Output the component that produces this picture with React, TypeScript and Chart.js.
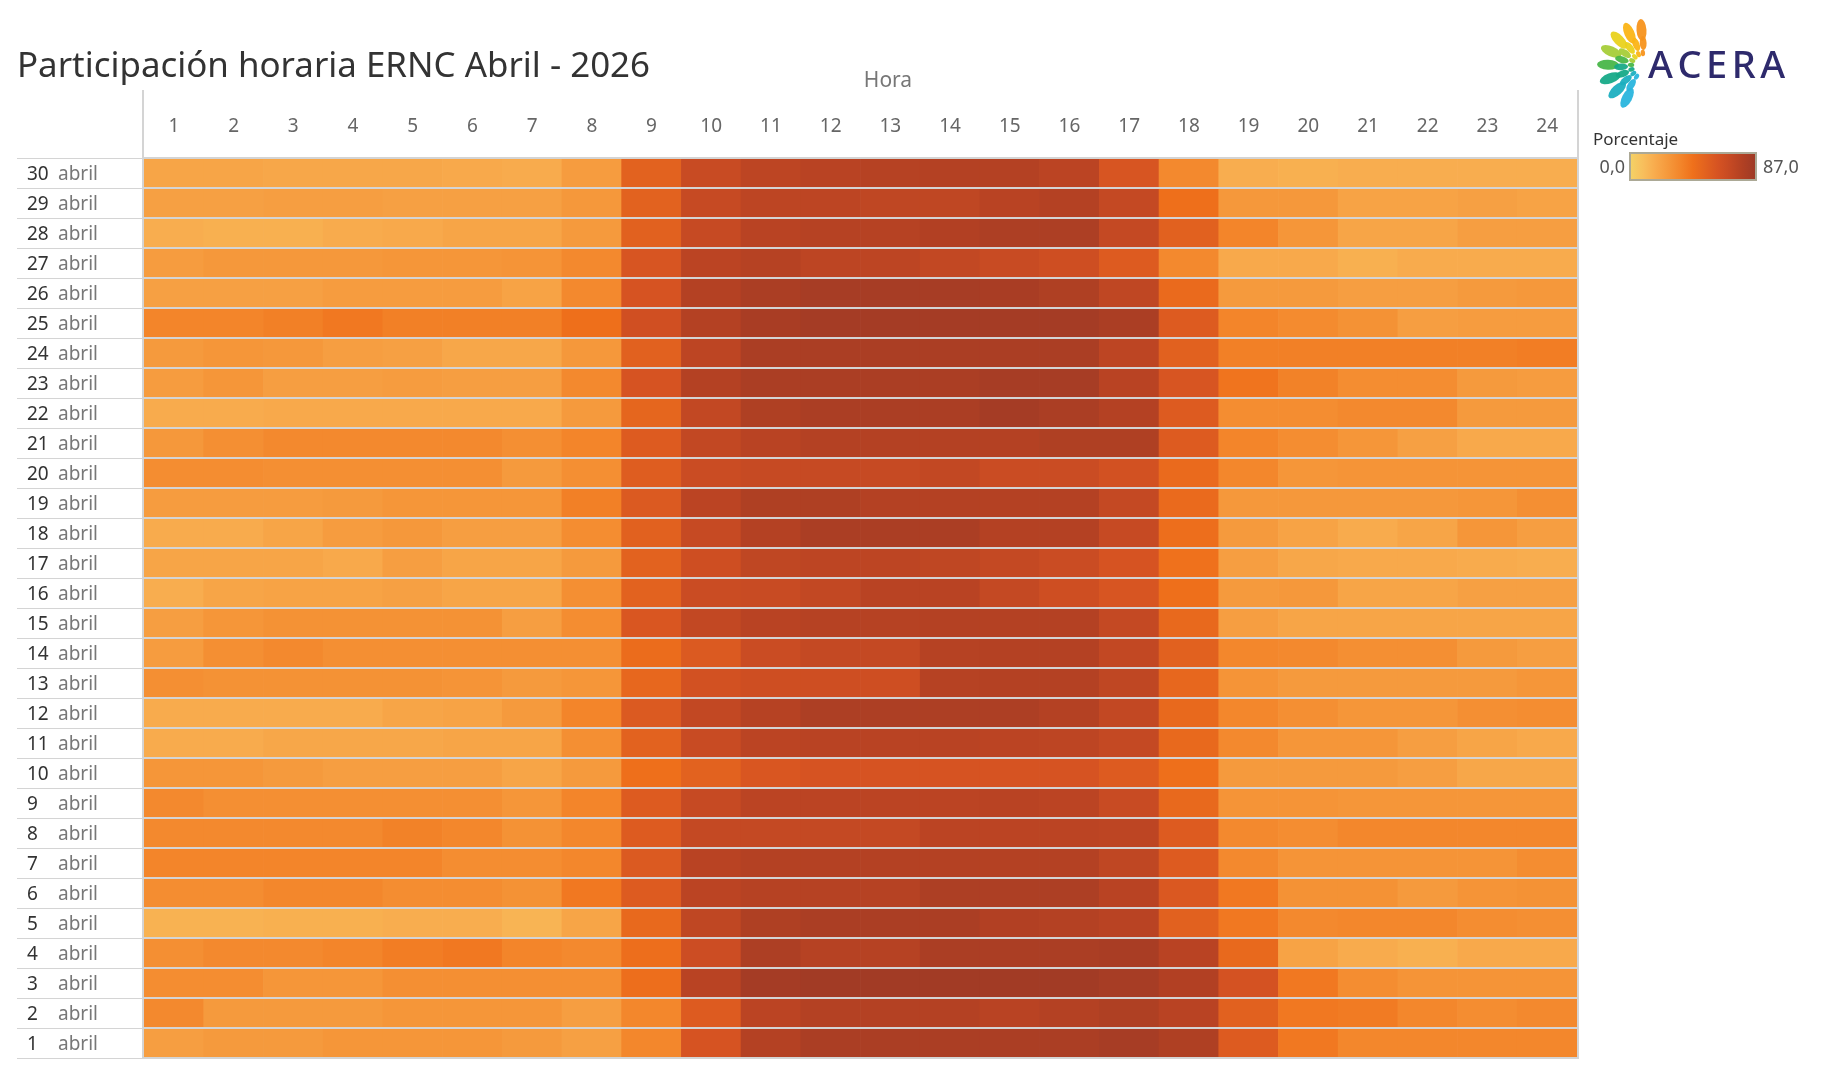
import { useEffect, useRef } from 'react';
import { Chart, registerables } from 'chart.js';

Chart.register(...registerables);

// ---------- data ----------
const TITLE = 'Participación horaria ERNC Abril - 2026';
const X_TITLE = 'Hora';
const LEGEND_TITLE = 'Porcentaje';
const MONTH_LABEL = 'abril';
const HOURS = ['1', '2', '3', '4', '5', '6', '7', '8', '9', '10', '11', '12', '13', '14', '15', '16', '17', '18', '19', '20', '21', '22', '23', '24'];
const DAYS = [30, 29, 28, 27, 26, 25, 24, 23, 22, 21, 20, 19, 18, 17, 16, 15, 14, 13, 12, 11, 10, 9, 8, 7, 6, 5, 4, 3, 2, 1];
const SCALE_MIN = 0;
const SCALE_MAX = 87;
const SCALE_LABELS = ['0,0', '87,0'];
const SCALE_COLORS = ['#f4d166', '#f8be5c', '#f8aa4c', '#f5983b', '#f3852a', '#ef701b', '#e2621f', '#d65322', '#c54923', '#b14023', '#9e3a26'];

const d30 = [20, 20, 19, 19, 19, 18, 17, 24, 52, 68, 73, 75, 76, 77, 77, 74, 60, 33, 16, 15, 16, 16, 16, 16];
const d29 = [22, 22, 23, 23, 22, 22, 22, 26, 52, 69, 73, 73, 72, 72, 75, 77, 70, 44, 26, 26, 21, 21, 22, 21];
const d28 = [16, 15, 15, 17, 18, 20, 20, 25, 53, 69, 75, 76, 76, 78, 80, 80, 70, 53, 35, 27, 20, 20, 23, 23];
const d27 = [24, 26, 26, 26, 27, 27, 28, 33, 60, 74, 76, 73, 73, 71, 68, 65, 56, 33, 18, 18, 15, 17, 17, 17];
const d26 = [22, 22, 22, 24, 24, 24, 21, 33, 61, 77, 81, 83, 83, 83, 82, 79, 72, 47, 25, 25, 23, 23, 25, 26];
const d25 = [35, 35, 37, 40, 37, 37, 37, 44, 64, 77, 82, 84, 84, 84, 84, 84, 81, 56, 35, 32, 29, 23, 24, 24];
const d24 = [25, 27, 26, 23, 22, 19, 19, 26, 53, 73, 81, 81, 81, 81, 81, 81, 73, 53, 37, 37, 37, 37, 37, 38];
const d23 = [24, 27, 23, 23, 24, 23, 23, 33, 61, 77, 81, 81, 81, 81, 83, 83, 75, 60, 42, 36, 31, 31, 25, 24];
const d22 = [17, 17, 18, 18, 18, 18, 18, 25, 50, 71, 79, 81, 81, 81, 84, 81, 77, 56, 31, 31, 33, 33, 25, 25];
const d21 = [26, 30, 33, 33, 33, 33, 30, 35, 56, 71, 75, 77, 77, 77, 77, 79, 79, 56, 35, 31, 27, 22, 18, 18];
const d20 = [31, 31, 30, 30, 30, 30, 25, 30, 55, 67, 69, 69, 69, 71, 67, 67, 63, 47, 34, 27, 28, 28, 28, 28];
const d19 = [24, 24, 24, 25, 27, 27, 27, 37, 57, 74, 79, 79, 77, 77, 77, 77, 70, 47, 26, 26, 26, 26, 27, 30];
const d18 = [17, 17, 20, 24, 26, 23, 23, 31, 53, 69, 77, 81, 81, 81, 77, 77, 69, 45, 25, 21, 17, 20, 27, 23];
const d17 = [20, 20, 20, 18, 23, 20, 20, 25, 52, 65, 72, 73, 73, 72, 70, 67, 61, 43, 23, 19, 18, 18, 17, 16];
const d16 = [16, 20, 21, 21, 22, 20, 20, 30, 52, 67, 68, 71, 75, 75, 70, 65, 60, 44, 25, 26, 20, 20, 22, 22];
const d15 = [23, 27, 29, 29, 29, 29, 23, 31, 59, 71, 75, 76, 76, 77, 77, 77, 70, 48, 23, 20, 20, 20, 20, 20];
const d14 = [24, 30, 33, 30, 30, 30, 30, 30, 46, 57, 67, 70, 70, 76, 77, 77, 71, 53, 34, 33, 30, 30, 25, 23];
const d13 = [30, 29, 29, 29, 29, 28, 25, 27, 49, 63, 65, 65, 65, 76, 77, 77, 72, 49, 28, 25, 25, 25, 25, 27];
const d12 = [17, 17, 17, 17, 20, 21, 25, 35, 57, 71, 76, 80, 80, 80, 80, 77, 71, 48, 34, 30, 27, 27, 30, 31];
const d11 = [17, 17, 19, 19, 19, 20, 20, 30, 52, 68, 74, 75, 75, 75, 74, 73, 70, 48, 33, 27, 27, 23, 20, 18];
const d10 = [27, 27, 25, 23, 23, 23, 20, 25, 44, 52, 59, 61, 61, 61, 61, 61, 56, 44, 25, 25, 25, 23, 19, 19];
const d9 = [33, 30, 30, 30, 30, 30, 27, 35, 56, 69, 74, 74, 74, 74, 75, 74, 68, 48, 28, 28, 27, 27, 27, 27];
const d8 = [33, 33, 33, 33, 36, 34, 29, 34, 56, 70, 70, 70, 70, 74, 74, 74, 73, 56, 33, 31, 34, 34, 34, 34];
const d7 = [35, 35, 35, 35, 35, 31, 31, 34, 57, 75, 77, 77, 77, 77, 77, 77, 72, 56, 33, 28, 28, 28, 28, 31];
const d6 = [31, 31, 34, 34, 31, 31, 29, 40, 56, 74, 76, 76, 76, 80, 80, 80, 75, 58, 40, 29, 29, 25, 28, 29];
const d5 = [14, 14, 15, 15, 16, 16, 13, 20, 48, 72, 79, 81, 81, 81, 78, 77, 75, 53, 40, 33, 34, 34, 31, 30];
const d4 = [30, 33, 33, 35, 38, 40, 35, 33, 45, 66, 80, 76, 76, 81, 81, 81, 82, 75, 48, 21, 17, 15, 18, 18];
const d3 = [31, 31, 27, 27, 30, 30, 30, 30, 45, 75, 84, 85, 85, 85, 85, 85, 83, 78, 62, 40, 31, 28, 28, 28];
const d2 = [33, 25, 25, 25, 27, 27, 27, 23, 34, 56, 74, 77, 77, 77, 75, 77, 79, 75, 53, 40, 39, 34, 31, 33];
const d1 = [23, 25, 25, 27, 27, 27, 25, 22, 34, 61, 77, 81, 81, 81, 81, 81, 83, 79, 56, 40, 34, 34, 34, 34];

// rows in the same order as DAYS (top to bottom)
const ROWS = [d30, d29, d28, d27, d26, d25, d24, d23, d22, d21, d20, d19, d18, d17, d16, d15, d14, d13, d12, d11, d10, d9, d8, d7, d6, d5, d4, d3, d2, d1];

// ---------- helpers ----------
function hexToRgb(h: string) {
  const n = parseInt(h.slice(1), 16);
  return [(n >> 16) & 255, (n >> 8) & 255, n & 255];
}
const SCALE_RGB = SCALE_COLORS.map(hexToRgb);
function colorFor(v: number) {
  const t = Math.min(1, Math.max(0, (v - SCALE_MIN) / (SCALE_MAX - SCALE_MIN)));
  const pos = t * (SCALE_RGB.length - 1);
  const i = Math.min(Math.floor(pos), SCALE_RGB.length - 2);
  const f = pos - i;
  const a = SCALE_RGB[i];
  const b = SCALE_RGB[i + 1];
  const c = a.map((x, k) => Math.round(x + (b[k] - x) * f));
  return `rgb(${c[0]},${c[1]},${c[2]})`;
}

const FONT = '"Noto Sans", "Open Sans", sans-serif';
const GRID = '#d4d4d4';

function drawLogo(ctx: CanvasRenderingContext2D) {
  const cx = 1636;
  const cy = 58;
  const petalColorStops: [number, string][] = [
    [270, '#f7941d'],
    [250, '#fbb416'],
    [230, '#e9d21e'],
    [210, '#a6cd39'],
    [190, '#49b649'],
    [170, '#17aa88'],
    [150, '#1cafc0'],
    [125, '#2ab5dd'],
  ];
  const colAt = (ang: number) => {
    let best = petalColorStops[0][1];
    let bd = 999;
    for (const [a, c] of petalColorStops) {
      const d = Math.abs(a - ang);
      if (d < bd) { bd = d; best = c; }
    }
    return best;
  };
  const rings: [number, number, number, number[]][] = [
    [36, 11, 5, [266, 246, 226, 204, 182, 160, 138, 118]],
    [23, 7, 3.4, [268, 250, 232, 214, 196, 178, 160, 142, 124]],
    [13, 3.2, 2.2, [265, 245, 225, 205, 185, 165, 145, 125]],
  ];
  for (const [r, rx, ry, angs] of rings) {
    for (const a of angs) {
      const rad = (a * Math.PI) / 180;
      ctx.beginPath();
      ctx.ellipse(cx + r * Math.cos(rad), cy + r * Math.sin(rad), rx, ry, rad, 0, Math.PI * 2);
      ctx.fillStyle = colAt(a);
      ctx.globalAlpha = 0.95;
      ctx.fill();
    }
  }
  ctx.globalAlpha = 1;
  ctx.fillStyle = '#2e2a6c';
  ctx.font = `500 38px ${FONT}`;
  ctx.textBaseline = 'alphabetic';
  ctx.textAlign = 'left';
  let x = 1640;
  for (const ch of 'ACERA') {
    ctx.fillText(ch, x, 70);
    x += ctx.measureText(ch).width + 4.5;
  }
}

const decorPlugin = {
  id: 'decor',
  afterDraw(chart: any) {
    const { ctx, chartArea: ca, scales } = chart;
    const y = scales.y;
    ctx.save();

    // title
    ctx.fillStyle = '#333333';
    ctx.font = `35px ${FONT}`;
    ctx.textAlign = 'left';
    ctx.textBaseline = 'alphabetic';
    const tw = ctx.measureText(TITLE).width;
    const sx = 633 / tw;
    ctx.save();
    ctx.translate(9, 69);
    ctx.scale(sx, 1);
    ctx.fillText(TITLE, 0, 0);
    ctx.restore();

    // axis title
    ctx.fillStyle = '#777777';
    ctx.font = `21px ${FONT}`;
    ctx.textAlign = 'center';
    ctx.textBaseline = 'middle';
    ctx.fillText(X_TITLE, 880, 73);

    // row separators in the label area
    ctx.strokeStyle = GRID;
    ctx.lineWidth = 1;
    for (let k = 0; k <= DAYS.length; k++) {
      const yy = Math.round(y.getPixelForValue(k)) + 0.5;
      ctx.beginPath();
      ctx.moveTo(9, yy);
      ctx.lineTo(ca.left, yy);
      ctx.stroke();
    }

    // vertical frame lines
    ctx.lineWidth = 2;
    ctx.beginPath();
    ctx.moveTo(ca.left - 1, 82);
    ctx.lineTo(ca.left - 1, ca.bottom + 1);
    ctx.moveTo(ca.right + 1, 82);
    ctx.lineTo(ca.right + 1, ca.bottom + 1);
    ctx.stroke();

    // row labels
    ctx.textBaseline = 'middle';
    ctx.textAlign = 'left';
    DAYS.forEach((day) => {
      const yc = y.getPixelForValue(day - 0.5) + 2;
      ctx.font = `19px ${FONT}`;
      ctx.fillStyle = '#333333';
      ctx.fillText(String(day), 19, yc);
      ctx.fillStyle = '#777777';
      ctx.fillText(MONTH_LABEL, 50, yc);
    });

    // legend
    ctx.fillStyle = '#333333';
    ctx.font = `17px ${FONT}`;
    ctx.textBaseline = 'alphabetic';
    ctx.fillText(LEGEND_TITLE, 1585, 137);
    const gx0 = 1623;
    const gx1 = 1747;
    const gy0 = 146;
    const gy1 = 171;
    const grad = ctx.createLinearGradient(gx0, 0, gx1, 0);
    SCALE_COLORS.forEach((c, i) => grad.addColorStop(i / (SCALE_COLORS.length - 1), c));
    ctx.fillStyle = grad;
    ctx.fillRect(gx0, gy0, gx1 - gx0, gy1 - gy0);
    ctx.strokeStyle = '#aca996';
    ctx.lineWidth = 2;
    ctx.strokeRect(gx0 - 1, gy0 - 1, gx1 - gx0 + 2, gy1 - gy0 + 2);
    ctx.fillStyle = '#555555';
    ctx.font = `18px ${FONT}`;
    ctx.textBaseline = 'middle';
    ctx.textAlign = 'right';
    ctx.fillText(SCALE_LABELS[0], 1617, 160);
    ctx.textAlign = 'left';
    ctx.fillText(SCALE_LABELS[1], 1755, 160);

    drawLogo(ctx);
    ctx.restore();
  },
};

export default function App() {
  const ref = useRef<HTMLCanvasElement | null>(null);
  useEffect(() => {
    if (!ref.current) return;
    const datasets = DAYS.map((day, i) => ({
      label: `${day} ${MONTH_LABEL}`,
      data: ROWS[i].map(() => [day - 1, day]),
      values: ROWS[i],
      backgroundColor: ROWS[i].map(colorFor),
      borderWidth: 0,
      barPercentage: 1,
      categoryPercentage: 1,
      grouped: false,
    }));
    const chart = new Chart(ref.current, {
      type: 'bar',
      data: { labels: HOURS, datasets: datasets as any },
      options: {
        responsive: false,
        animation: false,
        devicePixelRatio: 1,
        layout: { padding: { top: 90, left: 136, right: 236, bottom: 13 } },
        plugins: { legend: { display: false }, tooltip: { enabled: false } },
        scales: {
          x: {
            type: 'category',
            position: 'top',
            offset: true,
            grid: { display: false, drawTicks: false },
            border: { display: false },
            ticks: {
              color: '#666666',
              font: { family: FONT, size: 19 },
              padding: 20,
              autoSkip: false,
              maxRotation: 0,
            },
            afterFit: (s: any) => { s.height = 60; },
          },
          y: {
            type: 'linear',
            min: 0,
            max: DAYS.length,
            ticks: { stepSize: 1, display: false },
            grid: { color: GRID, lineWidth: 2, z: 1, drawTicks: false },
            border: { display: false },
            afterFit: (s: any) => { s.width = 0; },
          },
        },
      },
      plugins: [decorPlugin],
    });
    return () => chart.destroy();
  }, []);
  return (
    <div style={{ width: 1805, height: 1063 }}>
      <canvas ref={ref} width={1805} height={1063} style={{ display: 'block' }} />
    </div>
  );
}
